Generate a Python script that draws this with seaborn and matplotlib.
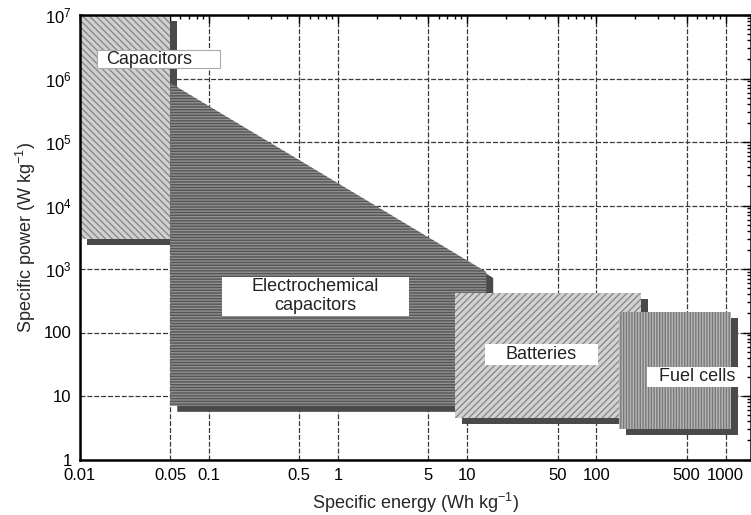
import numpy as np
import pandas as pd
import seaborn as sns
import matplotlib
matplotlib.use("Agg")
import matplotlib.pyplot as plt
from matplotlib.patches import Rectangle
from matplotlib.ticker import FixedLocator, NullFormatter, LogLocator
import matplotlib.transforms as mtransforms

# ---------------- data ----------------
regions = ["Capacitors", "Electrochemical capacitors", "Batteries", "Fuel cells"]
cap_energy = [0.01, 0.05, 0.05, 0.01]
cap_power = [3e3, 3e3, 1e7, 1e7]
ec_energy = [0.05, 0.05, 14, 14]
ec_power = [7, 8.5e5, 900, 7]
bat_energy = [8, 220, 220, 8]
bat_power = [4.5, 4.5, 420, 420]
fc_energy = [150, 1100, 1100, 150]
fc_power = [3, 3, 210, 210]

x_ticks = [0.01, 0.05, 0.1, 0.5, 1, 5, 10, 50, 100, 500, 1000]
x_ticklabels = ["0.01", "0.05", "0.1", "0.5", "1", "5", "10", "50", "100", "500", "1000"]
y_ticks = [1, 10, 100, 1e3, 1e4, 1e5, 1e6, 1e7]
y_ticklabels = ["1", "10", "100", r"$\mathregular{10^3}$", r"$\mathregular{10^4}$",
                r"$\mathregular{10^5}$", r"$\mathregular{10^6}$", r"$\mathregular{10^7}$"]

# ---------------- style ----------------
sns.set_theme(style="white")
plt.rcParams["font.family"] = ["Liberation Sans", "DejaVu Sans"]
plt.rcParams["mathtext.fontset"] = "custom"
plt.rcParams["mathtext.rm"] = "Liberation Sans"
plt.rcParams["mathtext.it"] = "Liberation Sans:italic"
plt.rcParams["hatch.linewidth"] = 1.0

fig = plt.figure(figsize=(7.51, 5.15), dpi=100)
ax = fig.add_axes([80 / 751, (515 - 459.5) / 515, 670.5 / 751, 444.5 / 515])
ax.set_xscale("log")
ax.set_yscale("log")
ax.set_xlim(0.01, 1560)
ax.set_ylim(1, 1e7)

shadow_tr = mtransforms.offset_copy(ax.transData, fig=fig, x=7, y=-6, units="dots")

styles = [
    dict(fc="#d0d0d0", hc="#8a8a8a", hatch="\\\\\\\\\\"),
    dict(fc="#909090", hc="#555555", hatch="------"),
    dict(fc="#d2d2d2", hc="#8a8a8a", hatch="/////"),
    dict(fc="#b8b8b8", hc="#777777", hatch="||||||"),
]
polys = [(cap_energy, cap_power), (ec_energy, ec_power),
         (bat_energy, bat_power), (fc_energy, fc_power)]

for i, ((xe, yp), st) in enumerate(zip(polys, styles)):
    z = 3 + 2 * i
    ax.fill(xe, yp, color="#4a4a4a", lw=0, zorder=z, transform=shadow_tr)
    ax.fill(xe, yp, facecolor=st["fc"], edgecolor=st["hc"], hatch=st["hatch"],
            lw=0, zorder=z + 1)

# grid
ax.xaxis.set_major_locator(FixedLocator(x_ticks))
ax.set_xticklabels(x_ticklabels)
ax.xaxis.set_minor_locator(LogLocator(base=10, subs=np.arange(2, 10) * 1.0, numticks=20))
ax.xaxis.set_minor_formatter(NullFormatter())
ax.yaxis.set_major_locator(FixedLocator(y_ticks))
ax.set_yticklabels(y_ticklabels)
ax.yaxis.set_minor_locator(LogLocator(base=10, subs=np.arange(2, 10) * 1.0, numticks=20))
ax.yaxis.set_minor_formatter(NullFormatter())
ax.grid(True, which="major", color="#3a3a3a", lw=0.9, ls=(0, (4, 1.5)), zorder=1)
ax.set_axisbelow(True)

ax.tick_params(which="both", direction="in", top=True, right=True, colors="black",
               labelsize=12, width=1.0)
ax.tick_params(which="major", length=6, pad=6)
ax.tick_params(which="minor", length=3)
for s in ax.spines.values():
    s.set_color("black")
    s.set_linewidth(1.8)
    s.set_zorder(20)

ax.set_xlabel(r"Specific energy (Wh kg$^{-1}$)", fontsize=13, labelpad=5.5)
ax.set_ylabel(r"Specific power (W kg$^{-1}$)", fontsize=13, labelpad=4)

# label boxes (axes fractions)
boxes = [
    (0.0254, 0.881, 0.184, 0.040, 0.039, 0.901, "left", regions[0], "#aaaaaa"),
    (0.212, 0.323, 0.279, 0.088, 0.351, 0.367, "center", "Electrochemical\ncapacitors", "none"),
    (0.604, 0.2126, 0.168, 0.047, 0.688, 0.236, "center", regions[2], "none"),
    (0.846, 0.163, 0.148, 0.045, 0.92, 0.186, "center", regions[3], "none"),
]
for (bx, by, bw, bh, tx, ty, ha, txt, ec) in boxes:
    ax.add_patch(Rectangle((bx, by), bw, bh, transform=ax.transAxes, facecolor="white",
                           edgecolor=ec, lw=0.8, zorder=15, clip_on=False))
    ax.text(tx, ty, txt, transform=ax.transAxes, ha=ha, va="center", fontsize=13,
            color="#222222", zorder=16, linespacing=1.15)

fig.savefig("out.png", dpi=100)
